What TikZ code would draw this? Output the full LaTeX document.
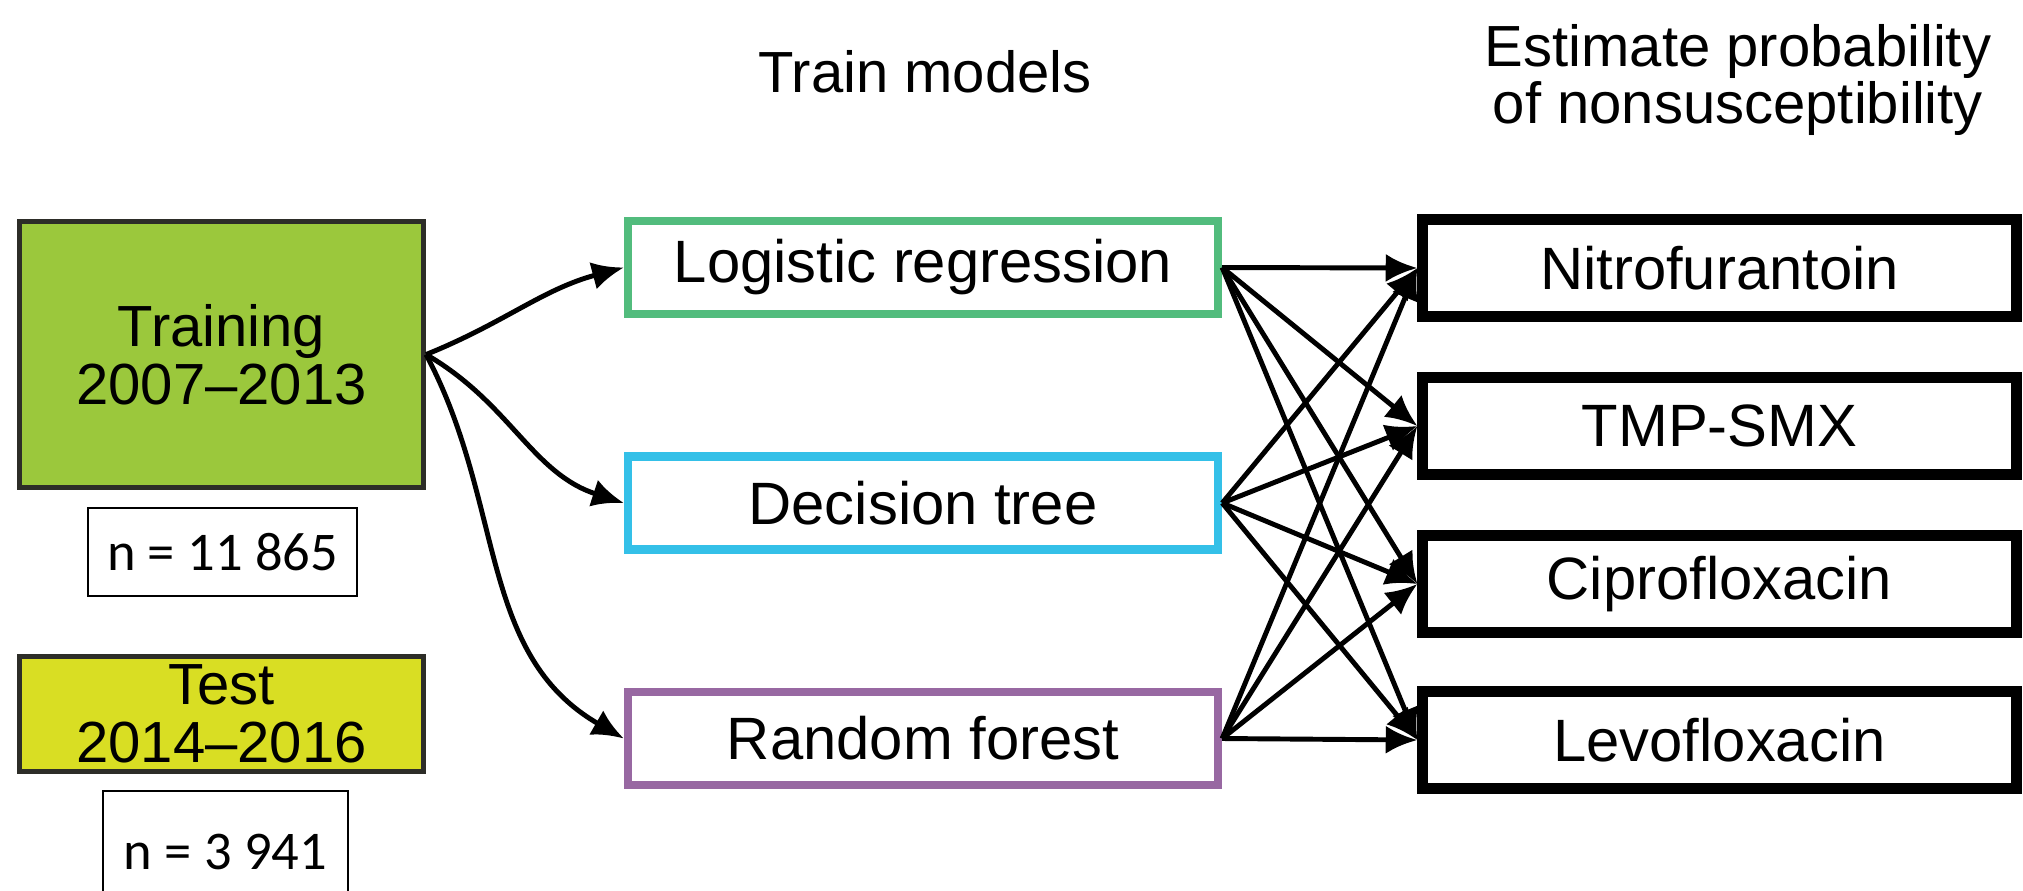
\documentclass[tikz,border=0pt]{standalone}
\usepackage{fontspec}
\setmainfont{Liberation Sans}
\newfontfamily\calibri{Carlito}
\usetikzlibrary{arrows.meta}
\definecolor{trainfill}{RGB}{155, 200, 60}
\definecolor{testfill}{RGB}{217, 222, 35}
\definecolor{boxedge}{RGB}{45, 45, 40}
\definecolor{logitcol}{RGB}{82, 188, 125}
\definecolor{treecol}{RGB}{52, 192, 232}
\definecolor{forestcol}{RGB}{152, 104, 162}

\tikzset{
	datebox/.style={draw=boxedge, line width=1.4pt, minimum width=4.04cm, align=center,
		inner sep=0pt, font=\fontsize{16.5}{16.5}\selectfont},
	countbox/.style={draw=black, line width=0.6pt, inner sep=0pt,
		font=\calibri\fontsize{15.5}{16}\selectfont},
	modelbox/.style={draw, line width=2.3pt, fill=white, minimum width=5.90cm,
		minimum height=0.93cm, inner sep=0pt, font=\fontsize{17}{18}\selectfont},
	drugbox/.style={draw=black, line width=3.1pt, fill=white, minimum width=5.93cm,
		minimum height=0.97cm, inner sep=0pt, font=\fontsize{17}{18}\selectfont},
	heading/.style={align=center, inner sep=0pt, font=\fontsize{16.5}{16}\selectfont},
	link/.style={line width=1.4pt, -{Latex[length=9pt,width=8pt]}}
}

\begin{document}
\begin{tikzpicture}[x=0.01cm, y=-0.01cm]
	\useasboundingbox (0, 0) rectangle (2023, 890);

	% column headings
	\node[heading] (hmodels) at (925, 72) {Train models};
	\node[heading] (hdrugs) at (1738, 80) {Estimate probability\\of nonsusceptibility};

	% data split
	\node[datebox, fill=trainfill, minimum height=2.66cm] (train) at (221.5, 354.5) {Training\\2007–2013};
	\node[countbox, minimum width=2.69cm, minimum height=0.88cm] (ntrain) at (222.5, 552) {n = 11 865};
	\node[datebox, fill=testfill, minimum height=1.15cm] (test) at (221.5, 714) {Test\\2014–2016};
	\node[countbox, minimum width=2.45cm, minimum height=1.22cm] (ntest) at (225.5, 852) {n = 3 941};

	% models
	\node[modelbox, draw=logitcol] (logit) at (923, 267.5) {Logistic regression};
	\node[modelbox, draw=treecol] (tree) at (923, 503) {Decision tree};
	\node[modelbox, draw=forestcol] (forest) at (923, 738.5) {Random forest};

	% antibiotics
	\node[drugbox] (nitro) at (1719.5, 268) {Nitrofurantoin};
	\node[drugbox] (tmp) at (1719.5, 426) {TMP-SMX};
	\node[drugbox] (cipro) at (1719.5, 584) {Ciprofloxacin};
	\node[drugbox] (levo) at (1719.5, 740) {Levofloxacin};

	% training set feeds every model
	\draw[link] (train.east) to[out=22, in=195] (logit.west);
	\draw[link] (train.east) to[out=-30, in=162] (tree.west);
	\draw[link] (train.east) to[out=-62, in=150] (forest.west);

	% every model scores every antibiotic
	\foreach \m in {logit, tree, forest}
		\foreach \d in {nitro, tmp, cipro, levo}
			\draw[link] (\m.east) -- (\d.west);
\end{tikzpicture}
\end{document}
